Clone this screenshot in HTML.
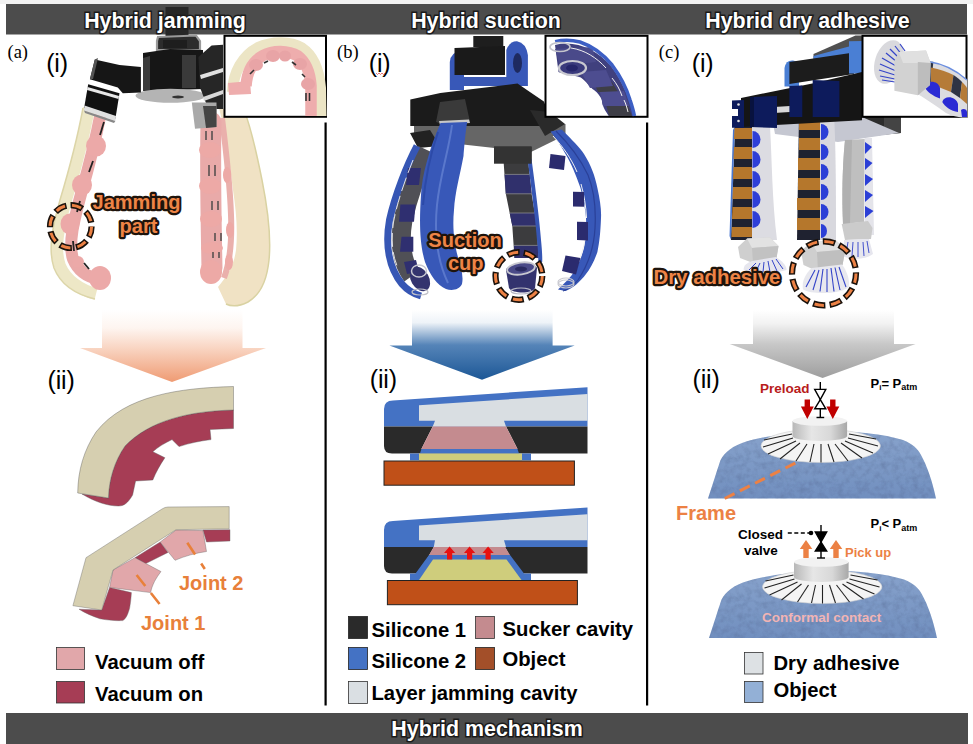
<!DOCTYPE html>
<html><head><meta charset="utf-8">
<style>
html,body{margin:0;padding:0;background:#fff;width:973px;height:744px;overflow:hidden}
svg{display:block}
text{font-family:"Liberation Sans",sans-serif}
.hd{font-weight:bold;font-size:21.4px;fill:#fff;stroke:#1a1a1a;stroke-width:3px;paint-order:stroke;text-anchor:middle}
.lg{font-weight:bold;font-size:20.25px;fill:#000}
.ser{font-family:"Liberation Serif",serif;font-size:18.5px;fill:#000}
.rn{font-size:25px;fill:#000;letter-spacing:-0.2px}
.ol{font-weight:bold;fill:#ee8446;stroke:#1e140c;stroke-width:4.4px;paint-order:stroke;stroke-linejoin:round}
</style></head>
<body>
<svg width="973" height="744" viewBox="0 0 973 744">
<defs>
<linearGradient id="ga" x1="0" y1="310" x2="0" y2="382" gradientUnits="userSpaceOnUse">
<stop offset="0" stop-color="#fff"/><stop offset="0.25" stop-color="#fef5f0"/><stop offset="0.52" stop-color="#f9d6c4"/><stop offset="1" stop-color="#ef9b73"/></linearGradient>
<linearGradient id="gb" x1="0" y1="310" x2="0" y2="380" gradientUnits="userSpaceOnUse">
<stop offset="0" stop-color="#fff"/><stop offset="0.18" stop-color="#eef3f8"/><stop offset="0.5" stop-color="#5584b8"/><stop offset="1" stop-color="#1c5796"/></linearGradient>
<linearGradient id="gc" x1="0" y1="310" x2="0" y2="378" gradientUnits="userSpaceOnUse">
<stop offset="0" stop-color="#fff"/><stop offset="0.2" stop-color="#f2f2f2"/><stop offset="0.5" stop-color="#c8c8c8"/><stop offset="1" stop-color="#9e9e9e"/></linearGradient>
</defs>

<!-- top thin strip -->
<rect x="0" y="0" width="973" height="4" fill="#f2f2f2"/>
<!-- header bar -->
<rect x="6" y="4" width="961" height="30.5" fill="#4c4c4c"/>

<!-- GRIPPERS PLACEHOLDER -->
<g id="grip">
<g id="gripA">
<!-- right finger beige -->
<path d="M219 108 L244 110 C250 125 256 150 262 180 C268 210 271 240 269 260 C267 280 260 295 248 302 C240 306 232 307 226 304 L218 287 C228 275 234 265 236 250 C238 230 236 210 233 190 C230 165 226 135 219 108 Z" fill="#f0e2c4"/>
<path d="M244 110 C250 125 256 150 262 180 C268 210 271 240 269 260 C267 280 260 295 248 302 C240 306 232 307 226 304" fill="none" stroke="#d9d2a2" stroke-width="1.5"/>
<path d="M222 118 C226 150 230 185 231 215 C232 240 230 262 224 278" fill="none" stroke="#eab0ac" stroke-width="6"/>
<!-- right finger pink column -->
<path d="M211 122 C210 170 211 220 212 268" stroke="#e9aaa9" stroke-width="21" stroke-linecap="round" fill="none"/>
<g fill="#eda9a6">
<ellipse cx="210" cy="150" rx="11" ry="8"/>
<ellipse cx="210" cy="186" rx="11" ry="8"/>
<ellipse cx="211" cy="219" rx="11" ry="8"/>
<ellipse cx="212" cy="248" rx="11" ry="6"/>
<ellipse cx="211" cy="272" rx="11" ry="12"/>
<ellipse cx="230" cy="230" rx="4" ry="8"/>
<ellipse cx="229" cy="262" rx="4" ry="8"/>
<ellipse cx="227" cy="175" rx="4" ry="8"/>
</g>
<g stroke="#444" stroke-width="1.4">
<line x1="206" y1="131" x2="206" y2="140"/><line x1="212" y1="131" x2="212" y2="140"/>
<line x1="209" y1="165" x2="209" y2="176"/><line x1="215" y1="165" x2="215" y2="176"/>
<line x1="212" y1="201" x2="212" y2="210"/><line x1="218" y1="201" x2="218" y2="210"/>
<line x1="215" y1="233" x2="215" y2="241"/><line x1="221" y1="233" x2="221" y2="241"/>
<line x1="213" y1="252" x2="213" y2="258"/><line x1="219" y1="252" x2="219" y2="258"/>
</g>
<!-- left finger beige -->
<path d="M89 108 C84 135 75 170 66 200 C58 228 54 250 60 266 C66 280 80 290 96 294" fill="none" stroke="#ede7c6" stroke-width="12"/>
<path d="M83 108 C78 135 69 170 60 200 C52 228 48 250 54 268 C60 283 74 294 95 299" fill="none" stroke="#dcd5a8" stroke-width="1.5"/>
<!-- left pink -->
<path d="M101 112 C96 138 89 166 81 194 C74 220 68 243 73 259 C78 271 88 277 98 279" stroke="#eaa9a8" stroke-width="12" stroke-linecap="round" fill="none"/>
<g fill="#eca9a8">
<ellipse cx="96" cy="146" rx="10" ry="10.5"/>
<ellipse cx="82" cy="185" rx="10" ry="10.5"/>
<ellipse cx="70" cy="224" rx="9.5" ry="10.5"/>
<ellipse cx="100" cy="278" rx="11" ry="12"/>
<ellipse cx="78" cy="262" rx="6" ry="6"/>
</g>
<g stroke="#222" stroke-width="1.8">
<line x1="104" y1="122" x2="100" y2="135"/>
<line x1="93" y1="161" x2="89" y2="172"/>
<line x1="80" y1="201" x2="77" y2="212"/>
<line x1="73" y1="241" x2="74" y2="251"/>
<line x1="84" y1="263" x2="89" y2="269"/>
</g>
<!-- body -->
<rect x="165.5" y="7" width="23" height="29" fill="#262626"/>
<path d="M158 37 L196 35.5 L200 41 L200 50 L157 50 L157 41 Z" fill="#2c2c2c" stroke="#9a9a9a" stroke-width="2.2"/>
<rect x="163" y="40" width="24" height="8" fill="#1e1e1e"/>
<path d="M143 53 L170 49 L203 50 L203 89 L143 91 Z" fill="#161616"/>
<path d="M143 58 L150 56 L150 90 L143 91 Z" fill="#3c3c3c"/>
<path d="M182 55 L196 55 L196 88 L182 88 Z" fill="#3a3a3a"/>
<ellipse cx="170.5" cy="95.8" rx="35" ry="7" fill="#b4b4b4"/>
<ellipse cx="178" cy="97" rx="6" ry="1.5" fill="#333"/>
<path d="M94.8 59.6 L119.5 65 L140.9 67 L140.9 92.5 L122.8 93.3 L117.8 87.6 L89.9 79.3 Z" fill="#161616"/>
<path d="M89.9 79.3 L94.8 59.6 L98 58 L93 79 Z" fill="#555"/>
<path d="M88.2 84.3 L119.5 93.3 L115.4 118.8 L84.1 108.1 Z" fill="#111"/>
<path d="M87.5 87 L119 96 L118.5 99 L87 90 Z" fill="#e8e8e8"/>
<path d="M84.5 105.5 L116 116 L115.4 121 L84 110.5 Z" fill="#e0e0e0"/>
<path d="M84 110.5 L115.4 121 L114 123 L85 113 Z" fill="#888"/>
<path d="M198.4 57 L211.6 45.6 L223 44.8 L223 109 L208.3 109 L200 87.6 Z" fill="#262626"/>
<path d="M200 75 L223 68 L223 72 L201 79 Z" fill="#e0e0e0"/>
<path d="M203 97 L223 90 L223 94 L204 101 Z" fill="#d8d8d8"/>
<path d="M191.8 102.4 L216.5 102.4 L216.5 127 L195 128.7 Z" fill="#a9a9a9"/>
<path d="M203 106 L216.5 106 L216.5 127 L206 128 Z" fill="#444"/>
</g>
</g>
<g id="gripB">
<!-- body -->
<path d="M449.8 90 L449.8 62 Q451 52 460 51.6 L464 51.6 L464 90 Z" fill="#3858b8"/>
<path d="M506.3 86 L506.3 50 Q510 41 517 41.3 Q526 43 527.9 55 L527.9 86 Z" fill="#3858b8"/>
<ellipse cx="517.5" cy="63" rx="4.5" ry="10" fill="#1e2a60"/>
<rect x="473.3" y="36" width="30" height="11" fill="#1e1e1e"/>
<path d="M454.5 48 L505 46 L505 75 L454.5 75 Z" fill="#1a1a1a"/>
<path d="M464 77 L507 77 L507 86 L464 86 Z" fill="#3a58b4"/>
<path d="M414 124 L565.5 124 L565.5 135 L531 152 L414 139 Z" fill="#666"/>
<path d="M410.3 99.6 L440.4 93 L517.5 83.6 L543.9 101.5 L550.5 118.4 L549 126 L410.3 126 Z" fill="#1b1b1b"/>
<path d="M440 102 L465 99 L470 122 L448 126 L436 122 Z" fill="#3a3a3a"/>
<path d="M439 121 L469 119.5 L470 123 L440 125 Z" fill="#c8c8c8"/>
<path d="M530 110 L550 112 L565 124 L545 136 Z" fill="#2a2a2a"/>
<path d="M410 133 L430 130 L440 146 L418 148 Z" fill="#222"/>
<rect x="494" y="146.6" width="37.6" height="15" fill="#2e2e2e"/>
<!-- left-back finger -->
<path d="M427 150 C418 170 408 197 403 220 C399 243 402 262 412 276" fill="none" stroke="#505056" stroke-width="19"/>
<path d="M417 146 C407 165 395 195 389.5 220 C385 245 389 268 402 284 C408 291 414 294 421 296" fill="none" stroke="#3656b4" stroke-width="7"/>
<g fill="#2f2f70">
<path d="M408 168 L421 168 L419 185 L406 185 Z"/>
<path d="M400.4 204.5 L415.5 204.5 L414 221.7 L399 221.7 Z"/>
<path d="M401.5 236.8 L413.3 236.8 L413.3 251.8 L400 251.8 Z"/>
<path d="M404 262 L416 260 L419 272 L407 274 Z"/>
</g>
<path d="M413 160 C405 180 397 203 393.5 222 C391 240 392 255 398 268" fill="none" stroke="#f4f4f4" stroke-width="0.9" stroke-dasharray="14 5"/>
<ellipse cx="420" cy="279" rx="9" ry="13" fill="#34346e" transform="rotate(-30 420 279)"/>
<ellipse cx="419" cy="271" rx="7.5" ry="6" fill="none" stroke="#c8c8d0" stroke-width="1.5"/>
<ellipse cx="420" cy="292" rx="8" ry="3" fill="none" stroke="#c0c0c8" stroke-width="1.2"/>
<!-- front-left big finger -->
<path d="M440.5 123 L467.2 122 C465 135 464 150 463.5 156 C460 175 455 192 454 210 C452 230 455 245 457.5 255.6 C460 265 464 275 462 284 C459 290 452 291 446 289 C437 285 430 275 425 262 C420 245 419 225 421 195 C422 175 429 150 440.5 123 Z" fill="#3858b8"/>
<path d="M452 125 C449 150 440 175 437 205 C434 235 438 262 448 283" fill="none" stroke="#5a78cc" stroke-width="2"/>
<path d="M438 132 C430 155 425 180 423 205" fill="none" stroke="#2c4aa8" stroke-width="2"/>
<!-- middle finger -->
<path d="M503.7 163 L528.4 163 L531.6 193.8 L537 226 L538.5 258 L514.5 258 L512.3 226 L505.8 193.8 Z" fill="#3c3c3e"/>
<g fill="#30306c">
<path d="M504.6 174.4 L529.5 174.4 L531.6 193.8 L505.8 193.8 Z"/>
<path d="M509.8 213 L535 213 L537 226 L512.3 226 Z"/>
<path d="M514 245.4 L538 245.4 L538.5 258 L514.5 258 Z"/>
</g>
<g stroke="#8a8a90" stroke-width="0.8"><line x1="504.6" y1="174.4" x2="529.5" y2="174.4"/><line x1="505.8" y1="193.8" x2="531.6" y2="193.8"/><line x1="509.8" y1="213" x2="535" y2="213"/><line x1="512.3" y1="226" x2="537" y2="226"/><line x1="514" y1="245.4" x2="538" y2="245.4"/></g>
<path d="M529.5 159 C533 185 537 215 539 240 C540 250 540.5 256 540.2 262" fill="none" stroke="#3656b4" stroke-width="4"/>
<rect x="494" y="146.5" width="37.6" height="17.2" fill="#333"/>
<path d="M506 270 C506 264 536 262 537 268 L535 288 C533 294 512 294 509 288 Z" fill="#33336e"/>
<ellipse cx="521" cy="268.5" rx="14" ry="6" transform="rotate(-8 521 268.5)" fill="#4a4a88" stroke="#c8c8d0" stroke-width="1.8"/>
<ellipse cx="521" cy="269" rx="6" ry="2.5" fill="#2a2a60"/>
<ellipse cx="521" cy="291" rx="10" ry="3" fill="none" stroke="#b8b8c4" stroke-width="1.2"/>
<!-- right finger -->
<path d="M550.5 131.5 L561.7 129.6 C572 140 580 148 584 154 C591 165 595 176 597.4 188 C600 200 601.5 210 601 218 C600.5 232 599.5 242 597.4 252 C594 262 590 269 586 274 C580 282 573 288 565.5 291 L558 289.4 C565 283 571 277 575 270.6 C579 263 582 256 584 248 C586 238 586.5 228 586 218 C585 206 583 197 580.5 188 C576 175 571 163 565.5 154 C561 146 556 138 550.5 131.5 Z" fill="#3858b8"/>
<path d="M556 131 C568 143 580 158 588 175 C594 190 596 210 595 228 C594 248 588 265 578 280 C574 285 569 289 563 291" fill="none" stroke="#2a4098" stroke-width="1.2"/>
<path d="M553 136 C563 147 571 158 577 172 M581 184 C584 195 586 206 586.5 218 M586 232 C585 242 583 250 580 258" fill="none" stroke="#f2f2f2" stroke-width="1"/>
<g fill="#2b2b6e">
<path d="M550.5 154 L565.5 156 L564 170 L549 168 Z"/>
<path d="M573 191.7 L584 192 L584 206.7 L573 206.5 Z"/>
<path d="M577 221.7 L588 222 L588 240.5 L577 240 Z"/>
<path d="M565.5 255.6 L580.5 258 L576 274.4 L562 271 Z"/>
</g>
<ellipse cx="566" cy="284" rx="8" ry="4" fill="none" stroke="#c8c8d0" stroke-width="1.2"/>
</g>
<ellipse cx="566" cy="282" rx="8" ry="4" fill="none" stroke="#c8c8d0" stroke-width="1.2"/>
</g>
<g id="gripC">
<!-- right gray finger -->
<path d="M862 112 L901 112 L901 133 L862 137 Z" fill="#2c2c2c"/>
<path d="M884 112 L901 112 L901 133 L884 134 Z" fill="#444"/>
<path d="M771.6 116 L862 117 L899 133 L838 142 L775 134 Z" fill="#c5c7d1"/>
<path d="M845 140 L865 139 L864 222 L843 224 C842 200 842 170 845 140 Z" fill="#bfbfbf"/>
<path d="M845 140 L852 140 L850 224 L843 224 C842 200 842 170 845 140 Z" fill="#b0b0b0"/>
<path d="M864.5 138 L872 138 L874 235 L864.5 235 Z" fill="#e4e4ea"/>
<g fill="#2b3fd6"><path d="M865 142 L872 147 L865 154 Z"/><path d="M865 158 L872.5 163 L865 170 Z"/><path d="M865 174 L873 179 L865 186 Z"/><path d="M865 190 L873 195 L865 202 Z"/><path d="M865 206 L873.5 211 L865 218 Z"/></g>
<path d="M841.7 224 L868 221 L872.5 228 L871 239 L845 240 Z" fill="#cbcbcb"/>
<path d="M844 240 L869 239 L873 254 C865 260 850 260 843 256 Z" fill="#e6e6ee"/>
<g stroke="#3040c8" stroke-width="0.9"><line x1="848" y1="242" x2="846" y2="254"/><line x1="853" y1="242" x2="852" y2="256"/><line x1="858" y1="242" x2="858" y2="257"/><line x1="863" y1="242" x2="864" y2="256"/><line x1="867" y1="241" x2="869" y2="253"/></g>
<!-- left finger -->
<path d="M735 126 L753 126 L753 240 L731 240 Z" fill="#1f2230"/>
<path d="M733 130 L735 126 L731 240 L729.5 236 Z" fill="#4a78d0"/>
<g fill="#b5772c">
<path d="M734.5 128 L753 128 L753 139 L734 139 Z"/>
<path d="M734 147 L753 147 L753 159 L733.5 159 Z"/>
<path d="M733.5 167 L753 167 L753 179 L733 179 Z"/>
<path d="M733 187 L753 187 L753 199 L732.5 199 Z"/>
<path d="M732.5 207 L753 207 L753 219 L732 219 Z"/>
<path d="M732 227 L753 227 L753 237 L731.5 237 Z"/>
</g>
<path d="M752 126 L770 126 C772 160 772 200 777 240 L752 240 C752 200 752 160 752 126 Z" fill="#dcdce2"/>
<g fill="#2f3fd8"><path d="M752.5 131 a8 8.5 0 0 1 0 17 Z"/><path d="M752.5 151 a8 8.5 0 0 1 0 17 Z"/><path d="M752.5 171 a8 8.5 0 0 1 0 17 Z"/><path d="M752.5 191 a8 8.5 0 0 1 0 17 Z"/><path d="M752.5 211 a8 8.5 0 0 1 0 17 Z"/></g>
<path d="M738 247 L747 238.5 L770 237.5 L778.5 246 L776.5 258 L753 263 L740 258 Z" fill="#cfcfcf"/>
<path d="M747 238.5 L770 237.5 L778.5 246 L752 248 Z" fill="#e2e2e2"/>
<path d="M752 248 L778.5 246 L776.5 258 L753 263 Z" fill="#c2c2c2"/>
<path d="M752 261 L776 257 C782 261 787 266 786.5 270 C778 273.5 752 273.5 743.5 269.5 C744 265 747 263 752 261 Z" fill="#e6e6ee"/>
<!-- middle finger -->
<path d="M799 114 L821 114 L821 240 L797 240 Z" fill="#1f2230"/>
<g fill="#b5772c">
<path d="M799 118 L821 118 L821 130 L799 130 Z"/>
<path d="M799 138 L821 138 L821 150 L799 150 Z"/>
<path d="M798 158 L821 158 L821 170 L798 170 Z"/>
<path d="M798 178 L821 178 L821 190 L798 190 Z"/>
<path d="M797 198 L821 198 L821 210 L797 210 Z"/>
<path d="M797 218 L821 218 L821 230 L797 230 Z"/>
</g>
<path d="M820 114 L834 114 C836 150 836 200 836 240 L820 240 Z" fill="#d8d8de"/>
<g fill="#2b3fd6"><path d="M821 124 a7.5 8 0 0 1 0 16 Z"/><path d="M821 144 a7.5 8 0 0 1 0 16 Z"/><path d="M821 164 a7.5 8 0 0 1 0 16 Z"/><path d="M821 184 a7.5 8 0 0 1 0 16 Z"/><path d="M821 204 a7.5 8 0 0 1 0 16 Z"/><path d="M821 224 a6 7 0 0 1 0 14 Z"/></g>
<path d="M801 251 L811 242 L836 240.6 L845.4 249.5 L842.5 265 L818 271.4 L803.5 265 Z" fill="#cfcfcf"/>
<path d="M811 242 L836 240.6 L845.4 249.5 L817 252 Z" fill="#e0e0e0"/>
<path d="M817 252 L845.4 249.5 L842.5 265 L818 271.4 Z" fill="#bfbfbf"/>
<path d="M812 268 L842 264.5 C847 271 850 280 848.8 287 C842 294 812 295 803 289.5 C801.5 282 805 274 812 268 Z" fill="#e8e8ee"/>
<g stroke="#3444c8" stroke-width="1.1"><line x1="815" y1="270" x2="806" y2="287"/><line x1="819" y1="270" x2="813" y2="290"/><line x1="823" y1="269" x2="820" y2="291.5"/><line x1="827" y1="269" x2="827" y2="292"/><line x1="831" y1="268" x2="834" y2="291.5"/><line x1="835" y1="267.5" x2="840" y2="290"/><line x1="839" y1="267" x2="846" y2="287"/></g>
<g stroke="#3444c8" stroke-width="1"><line x1="756" y1="263" x2="749" y2="270"/><line x1="760" y1="263" x2="756" y2="271.5"/><line x1="764" y1="262" x2="763" y2="272"/><line x1="768" y1="261" x2="770" y2="272"/><line x1="772" y1="260" x2="777" y2="271"/><line x1="776" y1="259" x2="783" y2="269"/></g>
<!-- body -->
<path d="M813.5 54 L855.5 35.6 L862 35.6 L862 58 L813.5 72 Z" fill="#505050"/>
<path d="M813.5 56 L862 43 L862 57 L813.5 70 Z" fill="#4a7fd4"/>
<path d="M784.5 86.5 L784.5 68 Q786 60 793 60.6 L799 62 L799 86.5 Z" fill="#4a7fd4"/>
<path d="M789.4 62 L853.9 52.6 L853.9 74 L789.4 84 Z" fill="#1c1c1c"/>
<path d="M849 41.3 L862 41 L862 73.5 L849 73.5 Z" fill="#4a7fd4"/>
<path d="M741 98 L813.5 83.2 L862 72 L862 120.3 L741 127 Z" fill="#151515"/>
<path d="M760 108 L790 106 L790 112 L760 114 Z" fill="#d8d8d8"/>
<path d="M732 100.5 L744 100 L744 127.8 L732 127.8 Z" fill="#0d1b5c"/>
<path d="M732 109 L738 109 L738 116 L732 116 Z" fill="#fff"/>
<circle cx="738.5" cy="104.5" r="1.3" fill="#e0e0e0"/><circle cx="738.5" cy="121" r="1.3" fill="#e0e0e0"/>
<path d="M750 97 L777 96 L777 128 L750 127 Z" fill="#0d1b5c"/>
<path d="M750 97 L754 97 L754 127 L750 127 Z" fill="#08123f"/>
<path d="M789.4 86 L802.3 85.6 L802.3 117 L789.4 117 Z" fill="#0d1b5c"/>
<path d="M812.7 80 L839.4 81 L839.4 117 L812.7 117 Z" fill="#0d1b5c"/>
</g>
</g>

<text class="hd" x="165" y="28">Hybrid jamming</text>
<text class="hd" x="486" y="28">Hybrid suction</text>
<text class="hd" x="807.5" y="28">Hybrid dry adhesive</text>

<!-- panel labels -->
<text class="ser" x="7.5" y="58">(a)</text>
<text class="ser" x="337" y="58">(b)</text>
<text class="ser" x="658.8" y="58">(c)</text>
<text class="rn" x="46.2" y="71.9">(i)</text>
<text class="rn" x="368.8" y="71.9">(i)</text>
<polyline points="376,73 377.5,74.5 379,73 380.5,74.5 382,73 383.5,74.5 385,73" fill="none" stroke="#e04040" stroke-width="0.7"/>
<text class="rn" x="691.8" y="71.9">(i)</text>
<text class="rn" x="47.6" y="388.6">(ii)</text>
<text class="rn" x="369.8" y="388.4">(ii)</text>
<text class="rn" x="692.6" y="388.4">(ii)</text>

<!-- insets -->
<rect x="224.5" y="35.8" width="101.5" height="81" fill="#fff" stroke="#000" stroke-width="2"/>
<rect x="545.5" y="35.8" width="102" height="81" fill="#fff" stroke="#000" stroke-width="2"/>
<rect x="862.5" y="35.8" width="104" height="81" fill="#fff" stroke="#000" stroke-width="2"/>

<!-- inset a -->
<g id="insetA">
<path d="M232.5 92 C233 72 243 55.5 258 47.5 C271 41.5 290 40.5 302 48 C314 56 319 70 320.5 88 L321 116" fill="none" stroke="#ece5c5" stroke-width="11"/>
<path d="M246 86 C247 72 253 61 263 55.5 C273 50 288 50 298 56 C306 62 310 72 311 86 L311 116" fill="none" stroke="#eeadad" stroke-width="11.5"/>
<path d="M228 83 L250 81 L251 94 L229 95 Z" fill="#eeadad"/>
<g fill="#e8a4a6"><ellipse cx="256" cy="65" rx="7" ry="6"/><ellipse cx="273" cy="56" rx="7" ry="6"/><ellipse cx="285" cy="56" rx="6" ry="5.5"/><ellipse cx="300" cy="64" rx="7" ry="6"/><ellipse cx="308" cy="84" rx="7" ry="6"/></g>
<g stroke="#333" stroke-width="1.6"><line x1="250" y1="74" x2="254" y2="70"/><line x1="264" y1="63" x2="268" y2="61"/><line x1="292" y1="62" x2="296" y2="65"/><line x1="302" y1="74" x2="305" y2="77"/><line x1="306" y1="93" x2="306" y2="101"/><line x1="309.5" y1="93" x2="309.5" y2="101"/></g>
</g>
<!-- inset b -->
<g id="insetB">
<path d="M555 45 C575 40 596 49 611 66 C623 82 630 100 634.4 116 L608.7 116 C605 110 602 106 602 100 C600 96 598 93 594 90 C590 87 587 82 580.8 77.4 C572 75 563 74 558.5 72 Z" fill="#40407e"/>
<path d="M590 73 L612 82 L618 92 L598 92 Z" fill="#3e3e46"/>
<path d="M605 100 L628 106 L632 116 L609 116 Z" fill="#3e3e46"/>
<path d="M581 72 L606 70 L613 86 L590 88 Z" fill="#4d4d90"/>
<path d="M600 92 L624 91 L629 106 L603 106 Z" fill="#4d4d90"/>
<path d="M555 49 L592 47 L596 62 L560 66 Z" fill="#4a4a8a"/>
<path d="M555.2 41.7 C562 40 572 40 580 42 C592 46 603 54 612 65 C621 77 627 90 630 100 C632 106 633.5 111 634.4 116" fill="none" stroke="#3d5fc4" stroke-width="3.6"/>
<path d="M571 48 C585 50 597 58 606 68 M612 78 C617 84 620 90 622 96 M624 100 C626 104 627 108 628 112" fill="none" stroke="#f0f0f0" stroke-width="1"/>
<ellipse cx="560" cy="47" rx="10" ry="4.5" fill="none" stroke="#c4c4cc" stroke-width="1.6"/>
<ellipse cx="572.5" cy="68" rx="13.5" ry="7" fill="#3a3a7c" stroke="#c8c8d0" stroke-width="2.2"/>
<ellipse cx="572" cy="68" rx="6" ry="3.5" fill="#26266a"/>
</g>
<!-- inset c -->
<g id="insetC">
<path d="M912 90.8 C925 98 936 106 946 113 C952 116 958 117 962 117.6 L967 117.6 L967 80 C958 72 945 64 929 61.8 L915 62 Z" fill="#dcdce0"/>
<path d="M919 61.8 L933.4 61.8 L931 84 L917 78 Z" fill="#2f3444"/>
<path d="M931 67.4 C940 69 947 72 953.5 75 L951 92 L931 84 Z" fill="#b57b38"/>
<path d="M953.5 75 C957 77 960 80 962 82 L960 98 L951 92 Z" fill="#2f3444"/>
<path d="M962 82 C964 84 966 86 967 88 L967 104 L960 98 Z" fill="#b57b38"/>
<path d="M929 61.8 C945 64 958 72 967 80" fill="none" stroke="#6a8ee0" stroke-width="1.4"/>
<g fill="#2a2ad4">
<path d="M924.5 87 C926 80 938 80 940 88 L940 98.6 C933 96 927 92 924.5 87 Z"/>
<path d="M942.3 102 C944 95 956 96 958 104 L958 112 C951 111 945 107 942.3 102 Z"/>
<path d="M961 110 C963 108 967 109 967 112 L967 117 L962 117 Z"/>
</g>
<ellipse cx="889" cy="62" rx="14" ry="22.5" transform="rotate(18 889 62)" fill="#d9d9dd"/>
<g stroke="#3444c8" stroke-width="1.2">
<line x1="900" y1="44" x2="905" y2="51"/><line x1="895" y1="46" x2="902" y2="55"/><line x1="890" y1="49" x2="899" y2="58"/><line x1="886" y1="53" x2="897" y2="62"/><line x1="882" y1="58" x2="896" y2="66"/><line x1="880" y1="64" x2="896" y2="71"/><line x1="879" y1="70" x2="895" y2="75"/><line x1="880" y1="76" x2="895" y2="79"/><line x1="882" y1="80" x2="895" y2="82"/>
</g>
<path d="M894.4 60.7 L898.8 52 L926 50.6 L930.6 62.9 L930 85 L917.8 95.3 L894.4 90.8 Z" fill="#d2d2d2"/>
<path d="M898.8 52 L926 50.6 L930.6 62.9 L903 63 Z" fill="#e0e0e0"/>
<path d="M917.8 62 L930.6 62.9 L930 85 L917.8 95.3 Z" fill="#bdbdbd"/>
</g>
<!-- dividers -->
<rect x="324.5" y="122.5" width="2.2" height="583" fill="#000"/>
<rect x="646" y="122.5" width="2.2" height="583" fill="#000"/>

<!-- arrows -->
<path d="M102 310 H242.5 V348 H266 L172 382 L80 348 H102 Z" fill="url(#ga)"/>
<path d="M412 310 H552.6 V345.4 H574.7 L482 379.7 L389.4 345.4 H412 Z" fill="url(#gb)"/>
<path d="M753 310 H894 V344 H915.6 L822.6 378 L729.7 344 H753 Z" fill="url(#gc)"/>

<!-- (a)(ii) beams -->
<g stroke="#555" stroke-width="0.4">
<path d="M233.5 410 L233.5 428.5 L210 429.5 L211 439.6 C200 441 190 443 179 446.6 L172 439.6 C165 443 158 447 152.8 451.7 L164.9 457.7 C160 465 156 472 152.8 480 L135.6 481 L132.6 495 C128 503 124 506 118.5 506 C108 506 95 502 82 494 L108.4 498 C109 480 114 462 125 446 C150 420 190 411 233.5 410 Z" fill="#a63d55"/>
<path d="M233.5 386.5 L233.5 410 C190 411 150 420 125 446 C114 462 109 480 108.4 498 L77.7 493 C78 470 84 450 96 432 C125 395 180 388 233.5 386.5 Z" fill="#d6cfb0"/>
</g>
<g stroke="#666" stroke-width="0.4">
<path d="M203 530 L230 529.7 L230 541 L206.5 542 Z" fill="#a63d55"/>
<path d="M135 557.7 L160.2 542 L168 552.4 L145.4 563.8 Z" fill="#a63d55"/>
<path d="M109.6 587.4 L131.4 592.6 C131 600 130 606 129.6 608.3 C128 614 126 619 122.7 620.6 C115 621 107 620 100 618.8 C92 616 85 613 79 609.2 L101.7 610 Z" fill="#a63d55"/>
<path d="M160.2 542 L176 530 L203 530.6 L206.5 551.5 C196 553 185 556 175 560.3 Z" fill="#e1a7aa"/>
<path d="M113 570 L135 557.7 L161 571.6 C156 578 152 585 150.6 592.6 L109.6 587.4 Z" fill="#e1a7aa"/>
<path d="M168 507 L229.2 506.6 L229.2 528.8 L176 529.7 L113 570 L101.7 610 L72.9 605.7 L86 557.7 L162 509 Q165 507 168 507 Z" fill="#d6cfb0"/>
</g>
<g stroke="#e8803a" stroke-width="2.6">
<line x1="187.3" y1="542.8" x2="204.8" y2="569" stroke-dasharray="14 11"/>
<line x1="136.6" y1="575" x2="160.2" y2="604.8" stroke-dasharray="14 9"/>
</g>
<text x="179" y="590" font-weight="bold" font-size="20" fill="#e8803a">Joint 2</text>
<text x="141" y="630" font-weight="bold" font-size="20" fill="#e8803a">Joint 1</text>

<!-- (a) legend -->
<rect x="56.5" y="647.5" width="28" height="22" fill="#e1a7aa" stroke="#333" stroke-width="0.8"/>
<rect x="56.5" y="681.5" width="28" height="21.5" fill="#a63d55" stroke="#333" stroke-width="0.8"/>
<text class="lg" x="95" y="668.5">Vacuum off</text>
<text class="lg" x="95" y="701">Vacuum on</text>

<!-- (b)(ii) cross sections -->
<g id="xs1">
<path d="M384 409 Q384 400.4 393 400.4 L587.5 387.2 L587.5 426.4 L384 426.4 Z" fill="#4472c4"/>
<path d="M419 405.3 L587.5 394 L587.5 420.7 L504 420.7 L506 426.4 L432.7 426.4 L435 420.7 L419 420.7 Z" fill="#d9dee2"/>
<path d="M384 426.4 L432.7 426.4 L421.4 449 L517.5 449 L506 426.4 L587.5 426.4 L587.5 453.5 L392 453.5 Q384 453.5 384 446 Z" fill="#2a2a2a"/>
<path d="M432.7 426.4 L506 426.4 L517.5 449 L421.4 449 Z" fill="#c48b8f"/>
<path d="M421.4 449 L517.5 449 L519 453.5 L420 453.5 Z" fill="#4472c4"/>
<rect x="410" y="453.5" width="121" height="6.8" fill="#4472c4"/>
<rect x="419" y="453.5" width="103" height="6.8" fill="#cfcd7c"/>
<rect x="384" y="461" width="190.4" height="24.2" fill="#c05018" stroke="#222" stroke-width="1"/>
</g>
<g id="xs2">
<path d="M384 530 Q384 521 393 521 L587.5 507.4 L587.5 547 L384 547 Z" fill="#4472c4"/>
<path d="M419 525.5 L587.5 514.2 L587.5 540.2 L504 540.2 L506 547 L433.8 547 L435 540.2 L419 540.2 Z" fill="#d9dee2"/>
<path d="M384 547 L433.8 547 L419 573.5 L519.7 573.5 L505 547 L587.5 547 L587.5 573.5 L392 573.5 Q384 573.5 384 566 Z" fill="#2a2a2a"/>
<path d="M433.8 547 L505 547 L510 555 L429 555 Z" fill="#c48b8f"/>
<path d="M429 555 L510 555 L524 573.5 L531 573.5 L531 580 L410 580 L410 573.5 L415.5 573.5 Z" fill="#4472c4"/>
<path d="M433 559.4 L506.5 559.4 L521.5 580 L419 580 Z" fill="#cfcd7c"/>
<rect x="387.4" y="580.5" width="190" height="24.2" fill="#c05018" stroke="#222" stroke-width="1"/>
<g fill="#e81010">
<path d="M447 559.4 V553 H444 L449.6 546.5 L455.2 553 H452.2 V559.4 Z"/>
<path d="M467 559.4 V553 H464 L469.6 546.5 L475.2 553 H472.2 V559.4 Z"/>
<path d="M485.5 559.4 V553 H482.5 L488.1 546.5 L493.7 553 H490.7 V559.4 Z"/>
</g>
</g>

<!-- (b) legend -->
<rect x="348.5" y="616.5" width="19" height="22" fill="#2a2a2a" stroke="#222" stroke-width="0.8"/>
<rect x="348.5" y="647.5" width="19" height="22" fill="#4472c4" stroke="#222" stroke-width="0.8"/>
<rect x="348.5" y="681.5" width="19" height="22" fill="#dadfe3" stroke="#333" stroke-width="0.8"/>
<rect x="475.5" y="616.5" width="19" height="22" fill="#c48b8f" stroke="#333" stroke-width="0.8"/>
<rect x="475.5" y="647.5" width="19" height="22" fill="#a34f29" stroke="#222" stroke-width="0.8"/>
<text class="lg" x="371.5" y="637">Silicone 1</text>
<text class="lg" x="371.5" y="668">Silicone 2</text>
<text class="lg" x="371.5" y="700">Layer jamming cavity</text>
<text class="lg" x="502.5" y="636.3">Sucker cavity</text>
<text class="lg" x="502.5" y="665.8">Object</text>


<!-- callout labels -->
<g fill="none" stroke-linecap="butt">
<ellipse cx="70.8" cy="226.6" rx="20.8" ry="21.4" stroke="#1a120c" stroke-width="6.2" stroke-dasharray="12.5 4.17" stroke-dashoffset="1.5"/>
<ellipse cx="70.8" cy="226.6" rx="20.8" ry="21.4" stroke="#ec8144" stroke-width="3" stroke-dasharray="9.5 7.17"/>
<ellipse cx="518.9" cy="276" rx="23.4" ry="23.8" stroke="#1a120c" stroke-width="6.2" stroke-dasharray="12.5 4.2" stroke-dashoffset="1.5"/>
<ellipse cx="518.9" cy="276" rx="23.4" ry="23.8" stroke="#ec8144" stroke-width="3" stroke-dasharray="9.5 7.2"/>
<circle cx="824" cy="273.4" r="32" stroke="#1a120c" stroke-width="6.2" stroke-dasharray="12.5 4.26" stroke-dashoffset="1.5"/>
<circle cx="824" cy="273.4" r="32" stroke="#ec8144" stroke-width="3" stroke-dasharray="9.5 7.26"/>
</g>
<text class="ol" x="136.5" y="209.3" font-size="20" text-anchor="middle">Jamming</text>
<text class="ol" x="138.5" y="233" font-size="20" text-anchor="middle">part</text>
<text class="ol" x="465" y="247" font-size="20" text-anchor="middle">Suction</text>
<text class="ol" x="465.7" y="270" font-size="20" text-anchor="middle">cup</text>
<text class="ol" x="717" y="284" font-size="20.4" text-anchor="middle">Dry adhesive</text>

<!-- (c)(ii) scene -->
<defs>
<linearGradient id="blob" x1="0" y1="0" x2="0" y2="1"><stop offset="0" stop-color="#88a3cc"/><stop offset="1" stop-color="#718fbf"/></linearGradient>
<linearGradient id="cyl" x1="0" y1="0" x2="1" y2="0"><stop offset="0" stop-color="#b8b8b8"/><stop offset="0.35" stop-color="#e6e6e6"/><stop offset="0.7" stop-color="#d8d8d8"/><stop offset="1" stop-color="#a8a8a8"/></linearGradient>
<filter id="tex" x="0" y="0" width="100%" height="100%">
<feTurbulence type="fractalNoise" baseFrequency="0.16" numOctaves="3" seed="7" result="n"/>
<feColorMatrix in="n" type="matrix" values="0 0 0 0 0.1  0 0 0 0 0.15  0 0 0 0 0.3  0.9 0 0 0 -0.35" result="a"/>
<feComposite in="a" in2="SourceAlpha" operator="in" result="b"/>
<feMerge><feMergeNode in="SourceGraphic"/><feMergeNode in="b"/></feMerge>
</filter>
<g id="blobshape"><path d="M708 498.5 L719.5 463 C722 455 729 448 742 443 C762 436 790 433 822 431 C855 431 884 434 903 440 C913 444 918 449 921 455 C927 466 932 480 936 498.5 Z" fill="url(#blob)" filter="url(#tex)"/></g>
<g id="cup">
<ellipse cx="820.7" cy="445.8" rx="59.7" ry="16.7" fill="#f4f4f4" stroke="#d0d0d0" stroke-width="0.6"/>
<g stroke="#222" stroke-width="1.1">
<line x1="800" y1="443" x2="780" y2="459"/><line x1="807" y1="444" x2="796" y2="461"/><line x1="814" y1="444" x2="810" y2="462"/><line x1="821" y1="444" x2="821" y2="462.5"/><line x1="828" y1="444" x2="834" y2="462"/><line x1="835" y1="444" x2="848" y2="461"/><line x1="841" y1="443" x2="862" y2="458"/>
<line x1="796" y1="441" x2="768" y2="454"/><line x1="845" y1="441" x2="873" y2="453"/><line x1="793" y1="438" x2="763" y2="447"/><line x1="848" y1="438" x2="878" y2="446"/>
<line x1="792" y1="434" x2="764" y2="440"/><line x1="849" y1="434" x2="876" y2="439"/>
</g>
<path d="M792.5 421 L792.5 436 A27.3 5 0 0 0 847.1 436 L847.1 421 Z" fill="url(#cyl)"/>
<ellipse cx="819.8" cy="421" rx="27.3" ry="4.8" fill="#f2f2f2"/>
</g>
</defs>
<use href="#blobshape"/>
<use href="#cup"/>
<use href="#blobshape" transform="translate(1 139.5)"/>
<use href="#cup" transform="translate(1.5 141)"/>
<!-- frame line -->
<line x1="724.7" y1="498.5" x2="799.4" y2="461" stroke="#ec8144" stroke-width="3" stroke-dasharray="11 6"/>
<text x="676" y="519.5" font-weight="bold" font-size="20" fill="#ec8144">Frame</text>
<!-- valve 1 open -->
<g stroke="#000" stroke-width="1.4" fill="#fff">
<line x1="820.3" y1="382" x2="820.3" y2="417.5"/>
<line x1="816.5" y1="417.5" x2="824.2" y2="417.5"/>
<path d="M814.7 389.4 L825.8 389.4 L820.3 399.6 Z"/>
<path d="M814.7 408.8 L825.8 408.8 L820.3 399.6 Z"/>
</g>
<g fill="#c00000">
<path d="M804.6 399.6 H810 V406.5 H813.8 L807.3 419 L800.9 406.5 H804.6 Z"/>
<path d="M830.1 399.6 H835.5 V406.5 H839.3 L832.8 419 L826.4 406.5 H830.1 Z"/>
</g>
<text x="760" y="392.6" font-weight="bold" font-size="13.5" fill="#b81c1c">Preload</text>
<text x="870.5" y="387.6" font-weight="bold" font-size="13" fill="#000">P<tspan font-size="8" dy="2.5">i</tspan><tspan dy="-2.5">= P</tspan><tspan font-size="9" dy="2.5">atm</tspan></text>
<!-- valve 2 closed -->
<g stroke="#000" stroke-width="1.4" fill="#000">
<line x1="821" y1="525" x2="821" y2="558"/>
<line x1="817" y1="558" x2="825" y2="558"/>
<path d="M815.3 532 L826.7 532 L821 542 Z"/>
<path d="M815.3 551 L826.7 551 L821 542 Z"/>
</g>
<line x1="787.8" y1="533" x2="810" y2="533" stroke="#000" stroke-width="1.4" stroke-dasharray="4 2.5"/>
<circle cx="811" cy="533" r="2.3" fill="#000"/>
<g fill="#ec8144">
<path d="M803.3 558 V549 H799.8 L806 540 L812.3 549 H808.7 V558 Z"/>
<path d="M833.3 558 V549 H829.8 L836 540 L842.3 549 H838.7 V558 Z"/>
</g>
<text x="738" y="539" font-weight="bold" font-size="13.5" fill="#000">Closed</text>
<text x="744" y="555" font-weight="bold" font-size="13.5" fill="#000">valve</text>
<text x="845" y="557" font-weight="bold" font-size="13" fill="#ec8144">Pick up</text>
<text x="870.5" y="528.3" font-weight="bold" font-size="13" fill="#000">P<tspan font-size="8" dy="2.5">i</tspan><tspan dy="-2.5">&lt; P</tspan><tspan font-size="9" dy="2.5">atm</tspan></text>
<text x="762" y="622" font-weight="bold" font-size="13.5" fill="#f2b4b4">Conformal contact</text>
<!-- (c) legend -->
<rect x="744.5" y="652.5" width="18.5" height="21.5" fill="#dde1e4" stroke="#333" stroke-width="0.8"/>
<rect x="744.5" y="681.5" width="18.5" height="21" fill="#93b0d6" stroke="#333" stroke-width="0.8"/>
<text class="lg" x="773.5" y="669.5">Dry adhesive</text>
<text class="lg" x="773.5" y="696.8">Object</text>

<!-- bottom bar -->
<rect x="6" y="713" width="962" height="31" fill="#4c4c4c"/>
<text class="hd" x="487" y="736">Hybrid mechanism</text>
</svg>
</body></html>
